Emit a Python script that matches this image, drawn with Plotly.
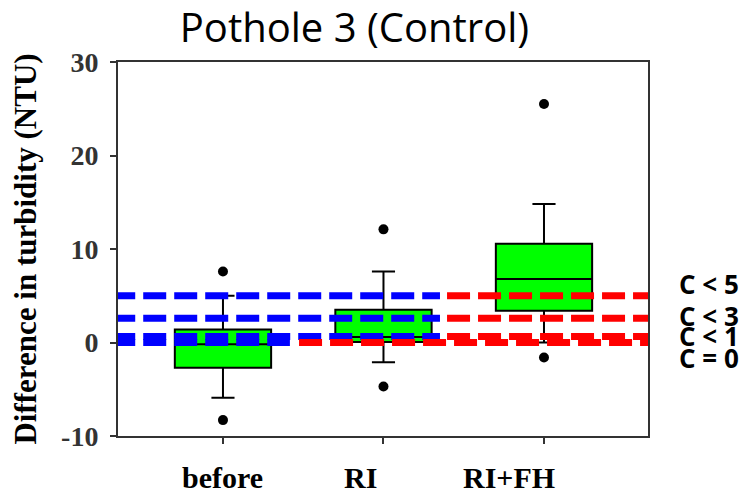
import plotly.graph_objects as go

# ---------------- data ----------------
categories = ["before", "RI", "RI+FH"]
cat_pos = [0, 1, 2]
q1 = [-2.7, 0.05, 3.4]
median = [-0.2, 0.6, 6.8]
q3 = [1.4, 3.5, 10.55]
lower_fence = [-5.9, -2.1, 0.0]
upper_fence = [5.0, 7.6, 14.8]
outliers_before = [7.6, -8.3]
outliers_ri = [12.1, -4.7]
outliers_rifh = [25.5, -1.6]

thresholds = [5.0, 2.6, 0.65, 0.0]
threshold_labels = ["C < 5", "C < 3", "C < 1", "C = 0"]
# x where blue segment ends / red segment begins (category units)
blue_end = [1.352, 1.352, 1.352, 0.417]
red_start = [1.396, 1.396, 1.396, 0.474]
line_start = -0.69
line_end = 2.70

yticks = [-10, 0, 10, 20, 30]
ytick_text = ["-10", "0", "10", "20", "30"]

# ---------------- figure ----------------
fig = go.Figure()

fig.add_trace(go.Box(
    x=cat_pos, q1=q1, median=median, q3=q3,
    lowerfence=lower_fence, upperfence=upper_fence,
    boxpoints=False, width=0.6, whiskerwidth=0.24,
    fillcolor="#00FF00", line=dict(color="black", width=2),
    showlegend=False, hoverinfo="skip",
))

out_x, out_y = [], []
for pos, vals in zip(cat_pos, [outliers_before, outliers_ri, outliers_rifh]):
    for v in vals:
        out_x.append(pos)
        out_y.append(v)
fig.add_trace(go.Scatter(
    x=out_x, y=out_y, mode="markers",
    marker=dict(color="black", size=10), showlegend=False,
))

dash = "23px,8px"
for t, be, rs in zip(thresholds, blue_end, red_start):
    fig.add_trace(go.Scatter(
        x=[line_start, be], y=[t, t], mode="lines",
        line=dict(color="#0000FF", width=7, dash=dash), showlegend=False,
    ))
    fig.add_trace(go.Scatter(
        x=[rs, line_end], y=[t, t], mode="lines",
        line=dict(color="#FF0000", width=7, dash=dash), showlegend=False,
    ))

annotations = []
label_y = [6.3, 2.8, 0.65, -1.7]
for lab, ly in zip(threshold_labels, label_y):
    annotations.append(dict(
        text=lab, xref="paper", x=1.055, xanchor="left",
        yref="y", y=ly, yanchor="middle", showarrow=False,
        font=dict(family="Open Sans", size=26, color="black", weight="bold"),
    ))

cat_label_x = [-0.006, 0.854, 1.78]
for lab, lx in zip(categories, cat_label_x):
    annotations.append(dict(
        text=f"<b>{lab}</b>", xref="x", x=lx, xanchor="center",
        yref="paper", y=-0.11, yanchor="middle", showarrow=False,
        font=dict(family="Liberation Serif", size=30, color="black"),
    ))

fig.update_layout(
    width=751, height=494,
    margin=dict(l=118, r=103, t=62, b=58),
    paper_bgcolor="white", plot_bgcolor="white",
    title=dict(
        text="Pothole 3 (Control)", xref="container", x=0.472, xanchor="center",
        yref="container", y=0.943, yanchor="middle",
        font=dict(family="Open Sans", size=40, color="black"),
    ),
    annotations=annotations,
    showlegend=False,
)

fig.update_xaxes(
    range=[-0.654, 2.648], tickvals=cat_pos, showticklabels=False,
    ticks="outside", ticklen=6, tickwidth=2, tickcolor="#333",
    showline=True, linecolor="#333", linewidth=2, mirror=True,
    showgrid=False, zeroline=False,
)
fig.update_yaxes(
    range=[-10, 30], tickvals=yticks, ticktext=ytick_text,
    ticks="outside", ticklen=6, tickwidth=2, tickcolor="#333",
    showline=True, linecolor="#333", linewidth=2, mirror=True,
    showgrid=False, zeroline=False,
    tickfont=dict(family="Liberation Serif", size=28, color="#333", weight="bold"),
    ticklabelstandoff=6,
    title=dict(
        text="<b>Difference in turbidity (NTU)</b>", standoff=15,
        font=dict(family="Liberation Serif", size=31, color="black"),
    ),
)

fig.write_html("out.html")
